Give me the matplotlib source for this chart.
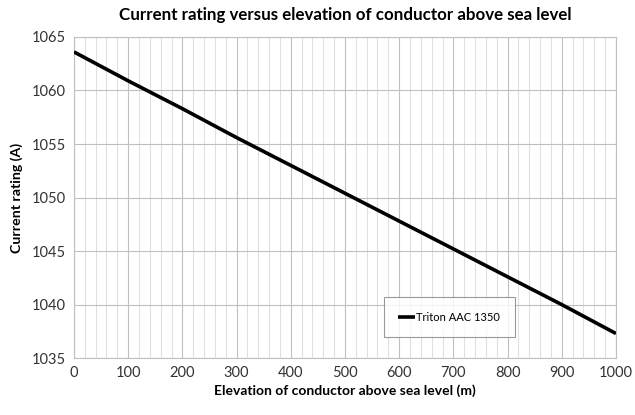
import matplotlib
matplotlib.use("Agg")
import matplotlib.pyplot as plt
from matplotlib.ticker import MultipleLocator

# === Data ===
elevation_m = [0, 100, 200, 300, 400, 500, 600, 700, 800, 900, 1000]
current_a = [1063.6, 1060.9, 1058.3, 1055.6, 1053.0, 1050.4,
             1047.8, 1045.2, 1042.6, 1040.0, 1037.3]
series_name = "Triton AAC 1350"

plt.rcParams['font.family'] = ['Lato', 'DejaVu Sans']

fig = plt.figure(figsize=(6.35, 4.15), dpi=100)
ax = fig.add_axes([0.1165, 0.137, 0.8535, 0.774])

ax.plot(elevation_m, current_a, color='black', linewidth=2.6,
        label=series_name, solid_capstyle='butt', zorder=3)

ax.set_xlim(0, 1000)
ax.set_ylim(1035, 1065)
ax.xaxis.set_major_locator(MultipleLocator(100))
ax.xaxis.set_minor_locator(MultipleLocator(20))
ax.yaxis.set_major_locator(MultipleLocator(5))

ax.grid(True, which='major', color='#c0c0c0', linewidth=0.8)
ax.grid(True, which='minor', axis='x', color='#e0e0e0', linewidth=0.8)
ax.set_axisbelow(True)

for spine in ax.spines.values():
    spine.set_color('#c0c0c0')
    spine.set_linewidth(0.8)

ax.tick_params(axis='both', which='both', length=0, labelsize=10.5,
               colors='#333333', pad=6)

ax.set_title('Current rating versus elevation of conductor above sea level',
             fontsize=12.2, fontweight='bold', pad=12)
ax.set_xlabel('Elevation of conductor above sea level (m)',
              fontsize=10, fontweight='bold', labelpad=3)
ax.set_ylabel('Current rating (A)', fontsize=10.2, fontweight='bold',
              labelpad=6)

leg = ax.legend(loc='lower left', bbox_to_anchor=(0.572, 0.065),
                fontsize=8, frameon=True, fancybox=False,
                handlelength=1.5, handletextpad=0.1,
                borderpad=1.3, borderaxespad=0)
leg.get_frame().set_edgecolor('#808080')
leg.get_frame().set_linewidth(0.8)

fig.savefig('out.png', dpi=100)
